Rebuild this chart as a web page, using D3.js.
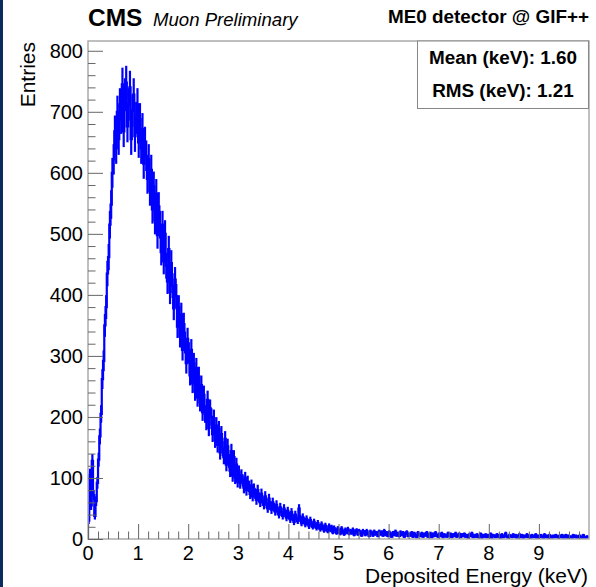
<!DOCTYPE html>
<html>
<head>
<meta charset="utf-8">
<script src="https://cdn.jsdelivr.net/npm/d3@7"></script>
<style>
    body { margin: 0; background: #fff; }
    #chart { position: relative; width: 596px; height: 587px; }
    text { font-family: "Liberation Sans", Arial, Helvetica, sans-serif; fill: #000; }
</style>
</head>
<body>
<div id="chart"></div>
<script>
// histogram contents, 0.025 keV bins from 0 to 10 keV
const binWidth = 0.025;
const entries = [
    30, 105, 55, 128, 72, 38, 62, 92, 130, 168,
    205, 262, 292, 350, 380, 435, 462, 515, 548, 600,
    622, 668, 640, 700, 655, 712, 690, 745, 668, 728,
    748, 676, 712, 740, 655, 702, 728, 660, 690, 712,
    650, 688, 640, 672, 615, 650, 628, 590, 622, 570,
    605, 540, 578, 522, 566, 498, 545, 515, 470, 515,
    455, 500, 448, 422, 475, 405, 452, 415, 378, 425,
    398, 348, 380, 332, 368, 310, 352, 322, 288, 328,
    305, 268, 310, 255, 288, 242, 280, 232, 266, 224,
    252, 208, 236, 205, 192, 228, 182, 214, 200, 172,
    198, 162, 186, 154, 180, 142, 172, 148, 134, 164,
    122, 152, 128, 112, 144, 104, 134, 100, 122, 94,
    110, 92, 104, 96, 84, 100, 80, 94, 86, 74,
    88, 70, 82, 74, 64, 80, 68, 60, 74, 62,
    56, 70, 58, 50, 66, 55, 48, 60, 52, 45,
    56, 46, 40, 52, 44, 38, 50, 42, 35, 46,
    38, 32, 44, 35, 28, 40, 33, 30, 50, 34,
    26, 36, 30, 24, 33, 27, 21, 31, 25, 20,
    28, 22, 18, 26, 20, 16, 24, 19, 14, 22,
    17, 13, 21, 15, 19, 11, 18, 14, 10, 17,
    13, 9, 17, 12, 8, 15, 11, 16, 9, 13,
    10, 15, 7, 12, 14, 8, 13, 10, 6, 13,
    11, 7, 13, 9, 5, 12, 10, 6, 12, 8,
    10, 5, 12, 8, 11, 6, 13, 7, 10, 5,
    11, 8, 4, 10, 7, 12, 6, 9, 5, 11,
    7, 10, 4, 9, 11, 5, 8, 6, 10, 4,
    9, 6, 3, 10, 7, 5, 9, 4, 8, 6,
    10, 4, 7, 9, 3, 8, 5, 10, 6, 4,
    8, 5, 9, 3, 7, 6, 4, 9, 5, 8,
    3, 7, 5, 9, 4, 6, 8, 3, 7, 5,
    8, 4, 6, 2, 7, 5, 9, 3, 6, 4,
    7, 3, 5, 8, 2, 6, 4, 7, 3, 6,
    4, 8, 2, 6, 5, 3, 7, 4, 6, 2,
    7, 3, 5, 9, 4, 2, 6, 5, 3, 7,
    4, 6, 2, 5, 7, 3, 6, 2, 5, 4,
    7, 3, 5, 2, 6, 4, 3, 7, 2, 5,
    3, 6, 4, 2, 7, 3, 5, 2, 6, 4,
    2, 5, 3, 6, 4, 2, 5, 3, 6, 2,
    4, 6, 2, 5, 3, 4, 2, 6, 3, 5,
    2, 4, 5, 3, 2, 6, 3, 2, 4, 3
];

const xTicks = [0, 1, 2, 3, 4, 5, 6, 7, 8, 9];
const yTicks = [0, 100, 200, 300, 400, 500, 600, 700, 800];
const xTitle = "Deposited Energy (keV)";
const yTitle = "Entries";
const statLines = ["Mean (keV): 1.60", "RMS (keV): 1.21"];
const detectorLabel = "ME0 detector @ GIF++";

const margin = {top: 41, right: 7, bottom: 48, left: 88};
const width = 596 - margin.left - margin.right;
const height = 587 - margin.top - margin.bottom;

const svg = d3.select("#chart")
    .append("svg")
    .attr("width", 596)
    .attr("height", 587);

// dark strip on the left edge of the canvas
svg.append("rect")
    .attr("x", 0).attr("y", 0)
    .attr("width", 3).attr("height", 587)
    .attr("fill", "#0b2a5e");

const g = svg.append("g")
    .attr("transform", `translate(${margin.left}, ${margin.top})`);

const x = d3.scaleLinear().domain([0, 10]).range([0, width]);
const y = d3.scaleLinear().domain([0, 816]).range([height, 0]);

g.append("clipPath").attr("id", "plot-clip")
    .append("rect").attr("width", width).attr("height", height);

// histogram: step outline plus sqrt(N) error bars
const bins = entries.map((n, i) => ({x0: i * binWidth, x1: (i + 1) * binWidth, n: n}));

let step = `M${x(0)},${y(0)}`;
bins.forEach(b => {
    step += `L${x(b.x0)},${y(b.n)}L${x(b.x1)},${y(b.n)}`;
});

const histo = g.append("g").attr("clip-path", "url(#plot-clip)");

histo.append("path")
    .attr("d", step)
    .style("fill", "none")
    .style("stroke", "#0000ff")
    .style("stroke-width", 2.2);

histo.selectAll(".err")
    .data(bins)
    .enter().append("line")
    .attr("class", "err")
    .attr("x1", d => x((d.x0 + d.x1) / 2))
    .attr("x2", d => x((d.x0 + d.x1) / 2))
    .attr("y1", d => y(d.n - Math.sqrt(d.n)))
    .attr("y2", d => y(d.n + Math.sqrt(d.n)))
    .style("stroke", "#0000ff")
    .style("stroke-width", 2.2);

// frame
g.append("rect")
    .attr("width", width)
    .attr("height", height)
    .style("fill", "none")
    .style("stroke", "#aaaaaa")
    .style("stroke-width", 1.5);

// ticks (inside the frame, ROOT style)
const xMinor = d3.range(0, 50).map(i => i * 0.2).filter(v => v > 0 && Math.abs(v - Math.round(v)) > 1e-6);
const yMinor = d3.range(0, 41).map(i => i * 20).filter(v => v % 100 !== 0 && v <= 816);

g.append("g")
    .attr("transform", `translate(0, ${height})`)
    .call(d3.axisTop(x).tickValues(xMinor).tickSize(7.5).tickFormat(""))
    .call(a => a.select(".domain").remove())
    .selectAll("line").style("stroke", "#666");

g.append("g")
    .attr("transform", `translate(0, ${height})`)
    .call(d3.axisTop(x).tickValues(xTicks).tickSize(15).tickFormat(""))
    .call(a => a.select(".domain").remove())
    .selectAll("line").style("stroke", "#666");

g.append("g")
    .call(d3.axisRight(y).tickValues(yMinor).tickSize(7.5).tickFormat(""))
    .call(a => a.select(".domain").remove())
    .selectAll("line").style("stroke", "#666");

g.append("g")
    .call(d3.axisRight(y).tickValues(yTicks).tickSize(15).tickFormat(""))
    .call(a => a.select(".domain").remove())
    .selectAll("line").style("stroke", "#666");

// tick labels
g.selectAll(".xlab")
    .data(xTicks)
    .enter().append("text")
    .attr("class", "xlab")
    .attr("x", d => x(d))
    .attr("y", height + 20.5)
    .attr("text-anchor", "middle")
    .style("font-size", "20px")
    .text(d => d);

g.selectAll(".ylab")
    .data(yTicks)
    .enter().append("text")
    .attr("class", "ylab")
    .attr("x", -5)
    .attr("y", d => y(d) + 7)
    .attr("text-anchor", "end")
    .style("font-size", "20px")
    .text(d => d);

// axis titles
svg.append("text")
    .attr("x", 588)
    .attr("y", 583)
    .attr("text-anchor", "end")
    .style("font-size", "21px")
    .text(xTitle);

svg.append("text")
    .attr("transform", "translate(35, 42) rotate(-90)")
    .attr("text-anchor", "end")
    .style("font-size", "21px")
    .text(yTitle);

// header
svg.append("text")
    .attr("x", 88).attr("y", 26)
    .style("font-size", "24.5px")
    .style("font-weight", "bold")
    .text("CMS");

svg.append("text")
    .attr("x", 153).attr("y", 26)
    .style("font-size", "18.6px")
    .style("font-style", "italic")
    .text("Muon Preliminary");

svg.append("text")
    .attr("x", 589).attr("y", 23)
    .attr("text-anchor", "end")
    .style("font-size", "18.9px")
    .style("font-weight", "bold")
    .text(detectorLabel);

// stats box
svg.append("rect")
    .attr("x", 417.5).attr("y", 41)
    .attr("width", 171).attr("height", 67.5)
    .style("fill", "#fff")
    .style("stroke", "#888")
    .style("stroke-width", 1);

svg.selectAll(".stat")
    .data(statLines)
    .enter().append("text")
    .attr("class", "stat")
    .attr("x", 503)
    .attr("y", (d, i) => 64 + i * 33)
    .attr("text-anchor", "middle")
    .style("font-size", "18.9px")
    .style("font-weight", "bold")
    .text(d => d);
</script>
</body>
</html>
